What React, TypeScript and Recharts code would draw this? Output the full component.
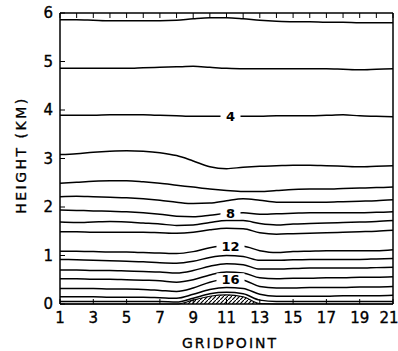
import { ComposedChart, Line, Area, XAxis, YAxis } from "recharts";

const gridpoints = [1, 2, 3, 4, 5, 6, 7, 8, 9, 10, 11, 12, 13, 14, 15, 16, 17, 18, 19, 20, 21];
const gridTicks = [1, 3, 5, 7, 9, 11, 13, 15, 17, 19, 21];
const heightTicks = [0, 1, 2, 3, 4, 5, 6];

// terrain height (km)
const terrain = [0, 0, 0, 0, 0, 0, 0, 0, 0.08, 0.16, 0.19, 0.15, 0.01, 0, 0, 0, 0, 0, 0, 0, 0];

// contour heights (km) at each gridpoint, top to bottom
const c2 = [5.86, 5.86, 5.85, 5.84, 5.84, 5.84, 5.84, 5.85, 5.88, 5.9, 5.9, 5.88, 5.85, 5.83, 5.82, 5.82, 5.81, 5.81, 5.8, 5.8, 5.8];
const c3 = [4.86, 4.86, 4.86, 4.86, 4.86, 4.87, 4.88, 4.89, 4.9, 4.88, 4.86, 4.85, 4.85, 4.85, 4.85, 4.85, 4.85, 4.84, 4.83, 4.84, 4.85];
const c4 = [3.89, 3.89, 3.89, 3.9, 3.9, 3.9, 3.89, 3.88, 3.87, 3.87, 3.87, 3.87, 3.87, 3.88, 3.88, 3.88, 3.89, 3.9, 3.88, 3.87, 3.86];
const c5 = [3.08, 3.1, 3.13, 3.15, 3.16, 3.15, 3.12, 3.06, 2.95, 2.83, 2.79, 2.82, 2.84, 2.85, 2.86, 2.86, 2.85, 2.84, 2.83, 2.84, 2.85];
const c6 = [2.49, 2.51, 2.53, 2.54, 2.54, 2.52, 2.49, 2.45, 2.41, 2.37, 2.34, 2.32, 2.32, 2.34, 2.36, 2.37, 2.37, 2.38, 2.39, 2.4, 2.41];
const c7 = [2.21, 2.22, 2.21, 2.2, 2.19, 2.17, 2.14, 2.1, 2.07, 2.08, 2.13, 2.17, 2.14, 2.1, 2.1, 2.1, 2.1, 2.11, 2.12, 2.13, 2.15];
const c8 = [1.94, 1.93, 1.92, 1.91, 1.9, 1.88, 1.85, 1.81, 1.8, 1.83, 1.87, 1.88, 1.85, 1.86, 1.87, 1.88, 1.88, 1.88, 1.88, 1.89, 1.9];
const c9 = [1.69, 1.68, 1.69, 1.7, 1.69, 1.67, 1.65, 1.62, 1.63, 1.68, 1.72, 1.72, 1.66, 1.63, 1.65, 1.66, 1.67, 1.68, 1.69, 1.7, 1.72];
const c10 = [1.49, 1.49, 1.48, 1.48, 1.48, 1.48, 1.47, 1.46, 1.48, 1.53, 1.56, 1.55, 1.47, 1.44, 1.45, 1.46, 1.47, 1.48, 1.49, 1.5, 1.52];
const c12 = [1.09, 1.09, 1.08, 1.07, 1.07, 1.06, 1.05, 1.04, 1.08, 1.16, 1.2, 1.19, 1.1, 1.06, 1.08, 1.09, 1.1, 1.1, 1.1, 1.1, 1.12];
const c13 = [0.92, 0.91, 0.9, 0.89, 0.88, 0.87, 0.85, 0.84, 0.88, 0.96, 1.0, 0.98, 0.9, 0.9, 0.91, 0.92, 0.92, 0.92, 0.92, 0.93, 0.94];
const c14 = [0.7, 0.7, 0.69, 0.69, 0.68, 0.67, 0.66, 0.64, 0.69, 0.78, 0.83, 0.81, 0.72, 0.72, 0.73, 0.74, 0.74, 0.74, 0.74, 0.75, 0.76];
const c15 = [0.52, 0.52, 0.51, 0.51, 0.5, 0.49, 0.48, 0.45, 0.5, 0.6, 0.66, 0.64, 0.54, 0.52, 0.53, 0.53, 0.54, 0.54, 0.55, 0.55, 0.56];
const c16 = [0.32, 0.32, 0.32, 0.31, 0.31, 0.3, 0.28, 0.26, 0.33, 0.45, 0.51, 0.49, 0.36, 0.33, 0.33, 0.34, 0.34, 0.34, 0.35, 0.35, 0.36];
const c17 = [0.15, 0.15, 0.15, 0.14, 0.14, 0.14, 0.13, 0.12, 0.2, 0.3, 0.34, 0.32, 0.2, 0.16, 0.16, 0.16, 0.16, 0.17, 0.17, 0.17, 0.18];
const c18 = [0.05, 0.05, 0.05, 0.05, 0.05, 0.05, 0.05, 0.04, 0.12, 0.21, 0.24, 0.21, 0.08, 0.05, 0.05, 0.05, 0.05, 0.05, 0.05, 0.05, 0.05];

const contours: { key: string; values: number[]; tag?: string }[] = [
  { key: "c2", values: c2 },
  { key: "c3", values: c3 },
  { key: "c4", values: c4, tag: "4" },
  { key: "c5", values: c5 },
  { key: "c6", values: c6 },
  { key: "c7", values: c7 },
  { key: "c8", values: c8, tag: "8" },
  { key: "c9", values: c9 },
  { key: "c10", values: c10 },
  { key: "c12", values: c12, tag: "12" },
  { key: "c13", values: c13 },
  { key: "c14", values: c14 },
  { key: "c15", values: c15 },
  { key: "c16", values: c16, tag: "16" },
  { key: "c17", values: c17 },
  { key: "c18", values: c18 },
];

const rows = gridpoints.map((g, i) => {
  const row: Record<string, number> = { g, terrain: terrain[i] };
  contours.forEach((c) => (row[c.key] = c.values[i]));
  return row;
});

const FONT = "DejaVu Sans, sans-serif";
const TAG_INDEX = 10; // gridpoint 11

const tagDot = (key: string, tag?: string) => (props: any) => {
  const { cx, cy, index } = props;
  if (!tag || index !== TAG_INDEX) return <g key={`${key}-${index}`} />;
  const w = tag.length * 8 + 12;
  const x = cx + 4;
  return (
    <g key={`${key}-${index}`}>
      <rect x={x - w / 2} y={cy - 6} width={w} height={12} fill="#fff" />
      <text x={x} y={cy + 5} textAnchor="middle" fontSize={13} fontWeight="bold" fontFamily={FONT} fill="#000">
        {tag}
      </text>
    </g>
  );
};

// bottom tick labels; the last one is nudged left so it stays inside the picture
const GridTick = (props: any) => {
  const { x, y, payload } = props;
  const v = payload.value;
  const shift = v === 21 ? -4 : 0;
  return (
    <text
      x={x + shift}
      y={y + 12}
      textAnchor="middle"
      fontSize={15}
      fontFamily={FONT}
      fill="#000"
      stroke="#000"
      strokeWidth={0.35}
    >
      {v}
    </text>
  );
};

const yTitle = () => (
  <text
    x={21}
    y={155}
    transform="rotate(-90, 21, 155)"
    textAnchor="middle"
    dominantBaseline="central"
    fontSize={14}
    fontFamily={FONT}
    letterSpacing={2.5}
    fill="#000"
    stroke="#000"
    strokeWidth={0.3}
  >
    HEIGHT (KM)
  </text>
);

const xTitle = () => (
  <text
    x={230}
    y={343}
    textAnchor="middle"
    dominantBaseline="central"
    fontSize={14}
    fontFamily={FONT}
    letterSpacing={2}
    fill="#000"
    stroke="#000"
    strokeWidth={0.3}
  >
    GRIDPOINT
  </text>
);

const axisStroke = { stroke: "#000", strokeWidth: 1.5 };

export default function App() {
  return (
    <div style={{ position: "absolute", left: 0, top: 0, background: "#fff" }}>
      <ComposedChart width={398} height={351} data={rows} margin={{ top: 0, right: 0, bottom: 0, left: 0 }}>
        <defs>
          <pattern id="hatch" patternUnits="userSpaceOnUse" width={4} height={4}>
            <path d="M0,4 L4,0" stroke="#000" strokeWidth={1.2} />
          </pattern>
        </defs>
        <XAxis
          xAxisId="bottom"
          dataKey="g"
          type="number"
          domain={[1, 21]}
          ticks={gridTicks}
          interval={0}
          height={47}
          tickSize={-5}
          tickMargin={12}
          axisLine={axisStroke}
          tickLine={{ stroke: "#000" }}
          tick={<GridTick />}
          label={xTitle}
        />
        <XAxis
          xAxisId="top"
          orientation="top"
          dataKey="g"
          type="number"
          domain={[1, 21]}
          ticks={gridpoints}
          interval={0}
          height={13}
          tickSize={-5}
          axisLine={axisStroke}
          tickLine={{ stroke: "#000" }}
          tickFormatter={() => ""}
        />
        <YAxis
          yAxisId="left"
          type="number"
          domain={[0, 6]}
          ticks={heightTicks}
          interval={0}
          width={60}
          tickSize={-5}
          tickMargin={12}
          axisLine={axisStroke}
          tickLine={{ stroke: "#000" }}
          tick={{ fill: "#000", fontSize: 15, fontFamily: FONT, stroke: "#000", strokeWidth: 0.35 }}
          label={yTitle}
        />
        <YAxis
          yAxisId="right"
          orientation="right"
          type="number"
          domain={[0, 6]}
          ticks={heightTicks}
          interval={0}
          width={5}
          tickSize={-5}
          axisLine={axisStroke}
          tickLine={{ stroke: "#000" }}
          tickFormatter={() => ""}
        />
        <Area
          xAxisId="bottom"
          yAxisId="left"
          dataKey="terrain"
          type="monotone"
          stroke="#000"
          strokeWidth={1.2}
          fill="url(#hatch)"
          fillOpacity={1}
          isAnimationActive={false}
        />
        {contours.map((c) => (
          <Line
            key={c.key}
            xAxisId="bottom"
            yAxisId="left"
            dataKey={c.key}
            type="monotone"
            stroke="#000"
            strokeWidth={1.5}
            dot={tagDot(c.key, c.tag)}
            activeDot={false}
            isAnimationActive={false}
          />
        ))}
      </ComposedChart>
    </div>
  );
}
